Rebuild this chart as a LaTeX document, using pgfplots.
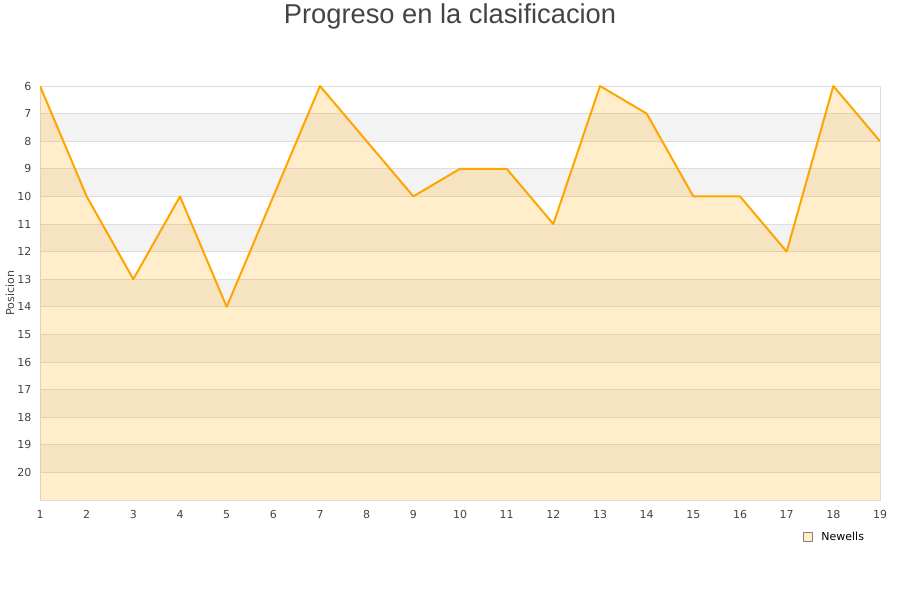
\documentclass[border=0pt]{standalone}
\usepackage{pgfplots}
\pgfplotsset{compat=1.18}
\usepackage{fontspec}
\setmainfont{DejaVu Sans}
\newfontfamily\titlefont{Liberation Sans}
\definecolor{lineor}{HTML}{FFA500}
\definecolor{gridc}{HTML}{DDDDDD}
\definecolor{bandc}{HTML}{F3F3F3}
\definecolor{txt}{HTML}{444444}
\begin{document}
\begin{tikzpicture}
\pgfplotsset{set layers}
\begin{axis}[
  at={(0pt,0pt)}, anchor=south west,
  scale only axis, width=840pt, height=414pt,
  xmin=1, xmax=19, ymin=6, ymax=21, y dir=reverse,
  xtick={1,...,19}, ytick={6,...,20},
  ymajorgrids, major grid style={gridc, line width=0.8pt},
  axis line style={gridc, line width=0.8pt},
  major tick length=0pt,
  /pgf/number format/assume math mode=true,
  tick label style={font=\fontsize{11}{13}\selectfont, text=txt},
  xticklabel style={yshift=-7pt},
  yticklabel style={xshift=-5pt},
  legend style={at={(rel axis cs:0.9083,-0.089)}, anchor=west, draw=none, fill=none,
    font=\fontsize{11}{13}\selectfont, inner sep=0pt, legend cell align=left},
  legend image code/.code={\draw[solid, draw=gray, fill=lineor!20, line width=0.5pt] (0pt,-4.5pt) rectangle (9pt,4.5pt); \path[draw=none] (0pt,0pt) -- (16pt,0pt);},
]
\addplot[fill=bandc, draw=none, on layer=axis background, forget plot] coordinates {(1,7) (19,7) (19,8) (1,8)};
\addplot[fill=bandc, draw=none, on layer=axis background, forget plot] coordinates {(1,9) (19,9) (19,10) (1,10)};
\addplot[fill=bandc, draw=none, on layer=axis background, forget plot] coordinates {(1,11) (19,11) (19,12) (1,12)};
\addplot[fill=bandc, draw=none, on layer=axis background, forget plot] coordinates {(1,13) (19,13) (19,14) (1,14)};
\addplot[fill=bandc, draw=none, on layer=axis background, forget plot] coordinates {(1,15) (19,15) (19,16) (1,16)};
\addplot[fill=bandc, draw=none, on layer=axis background, forget plot] coordinates {(1,17) (19,17) (19,18) (1,18)};
\addplot[fill=bandc, draw=none, on layer=axis background, forget plot] coordinates {(1,19) (19,19) (19,20) (1,20)};
\addplot[fill=lineor, fill opacity=0.2, draw=none, forget plot] coordinates {
(1,21) (1,6) (2,10) (3,13) (4,10) (5,14) (6,10) (7,6) (8,8) (9,10) (10,9)
(11,9) (12,11) (13,6) (14,7) (15,10) (16,10) (17,12) (18,6) (19,8) (19,21)};
\addplot[lineor, line width=2pt, line join=round] coordinates {
(1,6) (2,10) (3,13) (4,10) (5,14) (6,10) (7,6) (8,8) (9,10) (10,9)
(11,9) (12,11) (13,6) (14,7) (15,10) (16,10) (17,12) (18,6) (19,8)};
\addlegendentry{Newells}
\end{axis}
\node[rotate=90, font=\fontsize{11}{13}\selectfont, text=txt] at (-30pt,207pt) {Posicion};
\node[font=\titlefont\fontsize{27.3}{32}\selectfont, text=txt] at (410pt,484pt) {Progreso en la clasificacion};
\pgfresetboundingbox
\path (-40pt,-100pt) rectangle (860pt,500pt);
\end{tikzpicture}
\end{document}
